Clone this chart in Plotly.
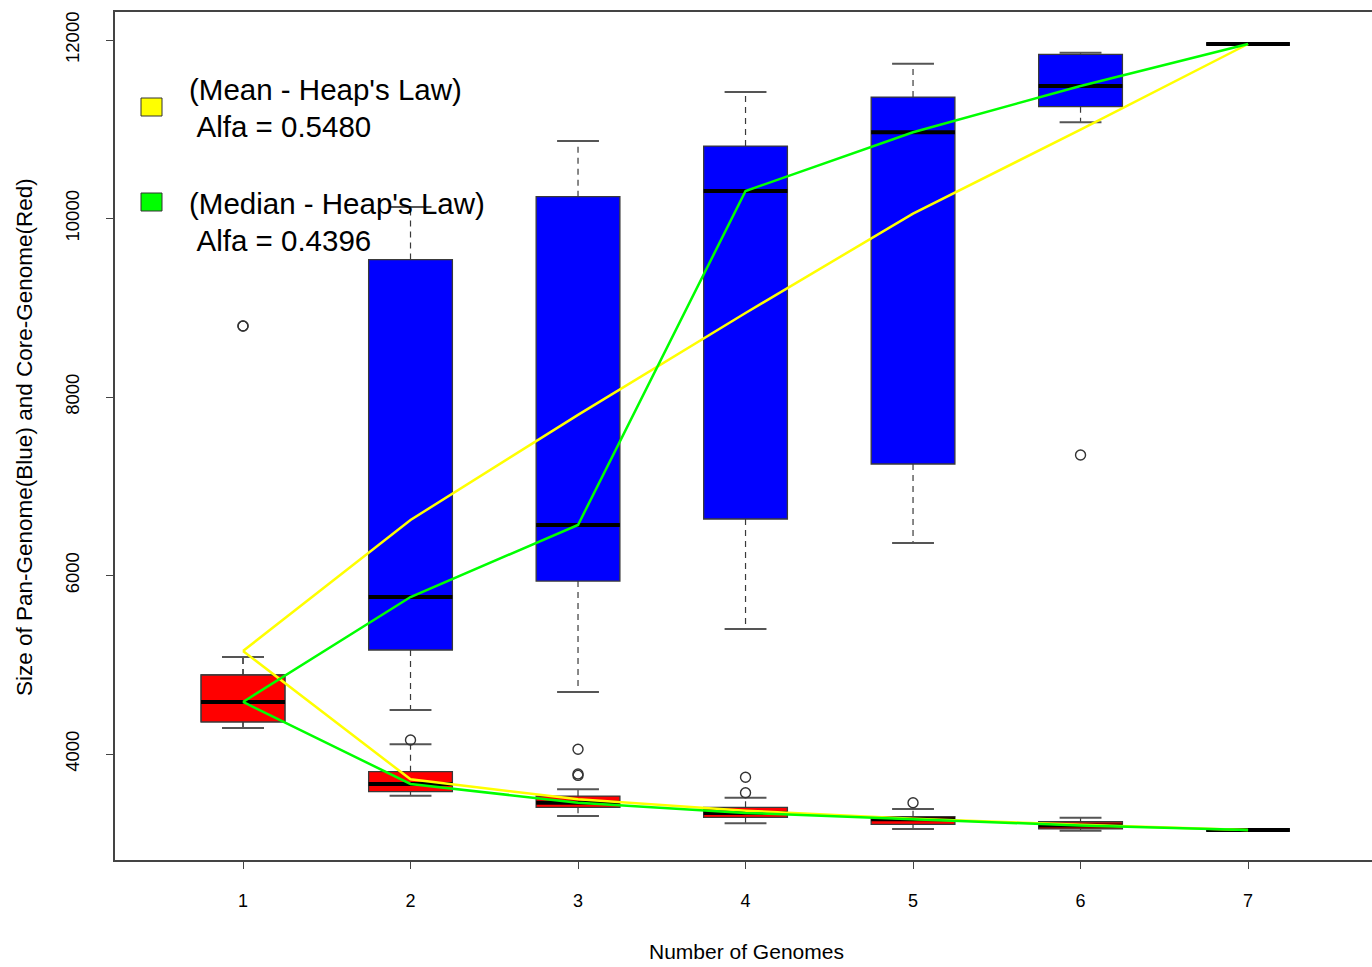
import plotly.graph_objects as go

# Number of genomes sampled
genomes = [1, 2, 3, 4, 5, 6, 7]
tick_labels = ["1", "2", "3", "4", "5", "6", "7"]

# Pan-genome size distribution (blue boxes)
pan_upper = [5087, 10129, 10868, 11417, 11734, 11858, 11955]
pan_q3 = [4885, 9540, 10244, 10812, 11361, 11840, 11955]
pan_median = [4583, 5759, 6566, 10308, 10966, 11485, 11955]
pan_q1 = [4359, 5165, 5938, 6633, 7249, 11253, 11955]
pan_lower = [4291, 4493, 4695, 5401, 6364, 11078, 11955]
pan_out_x = [1, 6]
pan_out_y = [8796, 7350]
pan_mean = [5154, 6622, 7800, 8941, 10055, 10995, 11955]

# Core-genome size distribution (red boxes)
core_upper = [5087, 4109, 3604, 3510, 3384, 3286, 3148]
core_q3 = [4885, 3802, 3529, 3403, 3298, 3241, 3148]
core_median = [4583, 3664, 3454, 3340, 3268, 3200, 3148]
core_q1 = [4359, 3578, 3403, 3291, 3212, 3160, 3148]
core_lower = [4291, 3533, 3305, 3223, 3160, 3141, 3148]
core_out_x = [1, 2, 3, 3, 3, 4, 4, 5]
core_out_y = [8796, 4157, 4053, 3776, 3760, 3739, 3566, 3454]
core_mean = [5154, 3716, 3493, 3365, 3275, 3207, 3148]

y_ticks = [4000, 6000, 8000, 10000, 12000]
y_tick_labels = ["4000", "6000", "8000", "10000", "12000"]

legend_entries = [
    ("(Mean - Heap's Law)", " Alfa = 0.5480", "#FFFF00"),
    ("(Median - Heap's Law)", " Alfa = 0.4396", "#00FF00"),
]

W, H = 1372, 967
ML, MR, MT, MB = 115, 0, 12, 107
BOX_W = 0.5
STAPLE_W = 0.25
FONT = "Liberation Sans, Arial, Helvetica, sans-serif"
EDGE = "#3a3a3a"


def segs(xs, y0s, y1s, half=None):
    """Build a broken-line path (None separated) for whiskers / staples / medians."""
    px, py = [], []
    for x, a, b in zip(xs, y0s, y1s):
        if half is None:
            px += [x, x, None]
            py += [a, b, None]
        else:
            px += [x - half, x + half, None]
            py += [a, a, None]
    return px, py


fig = go.Figure()


def add_group(q1, med, q3, lo, hi, fill, out_x, out_y):
    fig.add_trace(go.Box(
        x=genomes, q1=q1, median=med, q3=q3,
        lowerfence=q1, upperfence=q3,
        width=BOX_W, whiskerwidth=0, boxpoints=False,
        fillcolor=fill, line=dict(color=EDGE, width=1.3),
        showlegend=False, hoverinfo="skip",
    ))
    # dashed whiskers
    wx, wy = segs(genomes + genomes, q3 + q1, hi + lo)
    fig.add_trace(go.Scatter(x=wx, y=wy, mode="lines",
                             line=dict(color=EDGE, width=1.2, dash="6px,5px"),
                             showlegend=False, hoverinfo="skip"))
    # staples
    sx, sy = segs(genomes + genomes, hi + lo, hi + lo, half=STAPLE_W / 2)
    fig.add_trace(go.Scatter(x=sx, y=sy, mode="lines",
                             line=dict(color="#555555", width=2),
                             showlegend=False, hoverinfo="skip"))
    # thick medians
    mx, my = segs(genomes, med, med, half=BOX_W / 2)
    fig.add_trace(go.Scatter(x=mx, y=my, mode="lines",
                             line=dict(color="black", width=4),
                             showlegend=False, hoverinfo="skip"))
    # outliers
    fig.add_trace(go.Scatter(x=out_x, y=out_y, mode="markers",
                             marker=dict(symbol="circle-open", size=10,
                                         color="#333333", line=dict(width=1.4)),
                             showlegend=False, hoverinfo="skip"))


add_group(pan_q1, pan_median, pan_q3, pan_lower, pan_upper, "#0000FF",
          pan_out_x, pan_out_y)
add_group(core_q1, core_median, core_q3, core_lower, core_upper, "#FF0000",
          core_out_x, core_out_y)

# Heap's law trend lines through the means (yellow) and medians (green)
for ys in (pan_mean, core_mean):
    fig.add_trace(go.Scatter(x=genomes, y=ys, mode="lines",
                             line=dict(color="#FFFF00", width=2.5),
                             showlegend=False, hoverinfo="skip"))
for ys in (pan_median, core_median):
    fig.add_trace(go.Scatter(x=genomes, y=ys, mode="lines",
                             line=dict(color="#00FF00", width=2.5),
                             showlegend=False, hoverinfo="skip"))

pw, ph = W - ML - MR, H - MT - MB


def px_x(p):
    return (p - ML) / pw


def px_y(p):
    return (H - MB - p) / ph


annotations = [
    dict(text="Number of Genomes", x=px_x(746), y=px_y(952),
         xref="paper", yref="paper", showarrow=False,
         font=dict(size=21, family=FONT, color="black"),
         xanchor="center", yanchor="middle"),
    dict(text="Size of Pan-Genome(Blue) and Core-Genome(Red)",
         x=px_x(25), y=px_y(437), xref="paper", yref="paper",
         showarrow=False, textangle=-90,
         font=dict(size=22.5, family=FONT, color="black"),
         xanchor="center", yanchor="middle"),
]
shapes = []
rows = [(90, 126, 107), (204, 240, 202)]
for (line1, line2, color), (y1, y2, ysq) in zip(legend_entries, rows):
    annotations.append(dict(text=line1, x=px_x(187), y=px_y(y1),
                            xref="paper", yref="paper", showarrow=False,
                            font=dict(size=29.5, family=FONT, color="black"),
                            xanchor="left", yanchor="middle"))
    annotations.append(dict(text=line2, x=px_x(188), y=px_y(y2),
                            xref="paper", yref="paper", showarrow=False,
                            font=dict(size=29.5, family=FONT, color="black"),
                            xanchor="left", yanchor="middle"))
    shapes.append(dict(type="rect", xref="paper", yref="paper",
                       x0=px_x(141), x1=px_x(162),
                       y0=px_y(ysq + 9), y1=px_y(ysq - 9),
                       fillcolor=color, line=dict(color="#333333", width=1)))

fig.update_layout(
    width=W, height=H,
    margin=dict(l=ML, r=MR, t=MT, b=MB),
    paper_bgcolor="white", plot_bgcolor="white",
    boxmode="overlay",
    showlegend=False,
    annotations=annotations,
    shapes=shapes,
    xaxis=dict(range=[0.2358, 7.740], tickvals=genomes, ticktext=tick_labels,
               showgrid=False, zeroline=False,
               showline=True, mirror=True, linecolor="#444444", linewidth=1.5,
               ticks="outside", ticklen=7, tickcolor="#444444",
               ticklabelstandoff=17,
               tickfont=dict(size=18, family=FONT, color="black")),
    yaxis=dict(range=[2812.3, 12313.7], tickvals=y_ticks, ticktext=y_tick_labels,
               showgrid=False, zeroline=False,
               showline=True, mirror=False, linecolor="#444444", linewidth=1.5,
               ticks="outside", ticklen=7, tickcolor="#444444",
               tickangle=-90, ticklabelstandoff=20,
               tickfont=dict(size=18.5, family=FONT, color="black")),
)

fig.write_html("out.html")
